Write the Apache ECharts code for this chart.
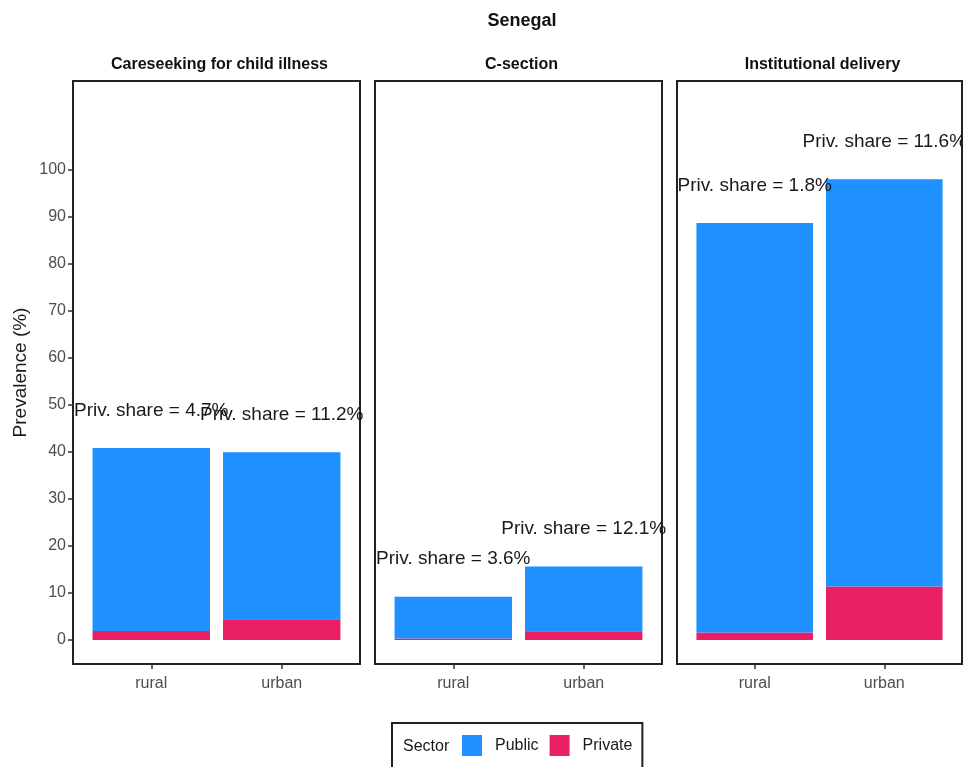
<!DOCTYPE html>
<html>
<head>
<meta charset="utf-8">
<script src="https://cdn.jsdelivr.net/npm/echarts@6/dist/echarts.min.js"></script>
<style>
html,body{margin:0;padding:0;background:#fff;}
#chart{width:963px;height:767px;}
</style>
</head>
<body>
<div id="chart"></div>
<script>
// ---- data ----
const chartTitle = 'Senegal';
const indicators = ['Careseeking for child illness', 'C-section', 'Institutional delivery'];
const categories = ['rural', 'urban'];
// values per indicator: [rural, urban]
const publicVals = [
  [38.9, 35.5],
  [8.9, 13.75],
  [87.0, 86.55]
];
const privateVals = [
  [1.9, 4.4],
  [0.3, 1.85],
  [1.6, 11.35]
];
const privShare = [
  [4.7, 11.2],
  [3.6, 12.1],
  [1.8, 11.6]
];
const yTicks = [0, 10, 20, 30, 40, 50, 60, 70, 80, 90, 100];
const legendNames = ['Public', 'Private'];
const yName = 'Prevalence (%)';

// ---- style / layout ----
const FONT = "'Liberation Sans', Arial, sans-serif";
const BLUE = '#1E90FF';
const PINK = '#E91E63';
const panelLeft = [73, 375, 677];
const panelWidth = [287, 287, 285];
const panelTop = 81, panelHeight = 583;
const Y_MIN = -5.1, Y_MAX = 118.8;
// discrete-scale expansion: categories sit at 1..2 in a 0.4..2.6 range
const insetFrac = 0.1 / 2.2, widthFrac = 2 / 2.2;

const grids = [], xAxes = [], yAxes = [], series = [], titles = [];
titles.push({
  text: chartTitle, left: 517, top: 7, textAlign: 'center',
  textStyle: {fontFamily: FONT, fontWeight: 'bold', fontSize: 18, color: '#111'}
});
// border grids (0..2)
indicators.forEach((ind, i) => {
  grids.push({
    left: panelLeft[i], top: panelTop, width: panelWidth[i], height: panelHeight,
    show: true, borderColor: '#222', borderWidth: 2, backgroundColor: 'transparent'
  });
  xAxes.push({type: 'value', gridIndex: i, show: false, min: 0, max: 1});
  yAxes.push({type: 'value', gridIndex: i, show: false, min: 0, max: 1});
  titles.push({
    text: ind, left: panelLeft[i] + panelWidth[i] / 2 - 2, top: 52, textAlign: 'center',
    textStyle: {fontFamily: FONT, fontWeight: 'bold', fontSize: 16, color: '#111'}
  });
});
// data grids (3..5)
indicators.forEach((ind, i) => {
  const inset = panelWidth[i] * insetFrac;
  const gi = 3 + i;
  grids.push({
    left: panelLeft[i] + inset, top: panelTop, width: panelWidth[i] * widthFrac, height: panelHeight,
    show: false
  });
  xAxes.push({
    type: 'category', gridIndex: gi, data: categories, boundaryGap: true,
    axisLine: {show: false, onZero: false},
    splitLine: {show: false},
    axisTick: {show: true, alignWithLabel: true, length: 5, lineStyle: {color: '#333', width: 1.5}},
    axisLabel: {margin: 12, fontFamily: FONT, fontSize: 16, color: '#4d4d4d'}
  });
  yAxes.push({
    type: 'value', gridIndex: gi, min: Y_MIN, max: Y_MAX,
    offset: i === 0 ? inset : 0,
    axisLine: {show: false},
    splitLine: {show: false},
    axisTick: {show: i === 0, customValues: yTicks, length: 5, lineStyle: {color: '#333', width: 1.5}},
    axisLabel: {
      show: i === 0, customValues: yTicks, margin: 7,
      fontFamily: FONT, fontSize: 16, color: '#4d4d4d'
    },
    name: i === 0 ? yName : '',
    nameLocation: 'middle', nameGap: 43, nameRotate: 90,
    nameTextStyle: {fontFamily: FONT, fontSize: 19, color: '#1a1a1a'}
  });
  series.push({
    type: 'bar', name: 'Private', xAxisIndex: gi, yAxisIndex: gi, stack: 's' + i,
    barWidth: '90%', itemStyle: {color: PINK},
    data: privateVals[i]
  });
  series.push({
    type: 'bar', name: 'Public', xAxisIndex: gi, yAxisIndex: gi, stack: 's' + i,
    barWidth: '90%', itemStyle: {color: BLUE},
    label: {
      show: true, position: 'top', distance: 28,
      fontFamily: FONT, fontSize: 19, color: '#1a1a1a',
      formatter: p => 'Priv. share = ' + privShare[i][p.dataIndex] + '%'
    },
    data: publicVals[i]
  });
});

const chart = echarts.init(document.getElementById('chart'), null, {renderer: 'canvas'});
chart.setOption({
  backgroundColor: '#fff',
  animation: false,
  title: titles,
  grid: grids,
  xAxis: xAxes,
  yAxis: yAxes,
  legend: {
    data: legendNames,
    left: 392, top: 723,
    padding: [12, 10, 12, 70],
    borderColor: '#222', borderWidth: 2,
    itemWidth: 20, itemHeight: 21, itemGap: 11,
    icon: 'rect',
    textStyle: {fontFamily: FONT, fontSize: 16, color: '#1a1a1a', padding: [0, 0, 0, 8]}
  },
  graphic: [{
    type: 'text', left: 403, top: 739,
    style: {text: 'Sector', font: '16px ' + FONT, fill: '#1a1a1a'}
  }],
  series: series
});
</script>
</body>
</html>
